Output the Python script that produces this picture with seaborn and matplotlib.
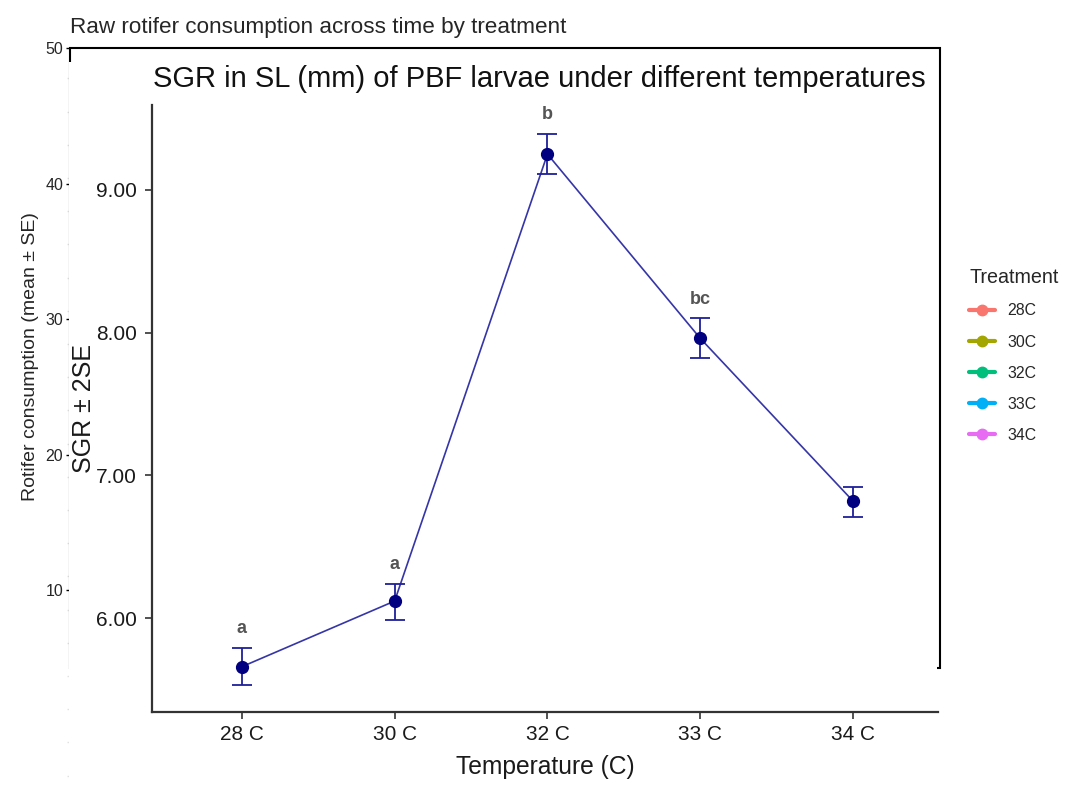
import numpy as np
import pandas as pd
import matplotlib
matplotlib.use("Agg")
import matplotlib.pyplot as plt
import seaborn as sns
from matplotlib.lines import Line2D
from matplotlib.patches import Rectangle
from matplotlib.ticker import FixedLocator

# data
temps = ["28 C", "30 C", "32 C", "33 C", "34 C"]
sgr_mean = [5.66, 6.12, 9.25, 7.96, 6.82]
sgr_low = [5.53, 5.99, 9.11, 7.82, 6.71]
sgr_high = [5.79, 6.24, 9.39, 8.10, 6.92]
letters = ["a", "a", "b", "bc", ""]

treatments = ["28C", "30C", "32C", "33C", "34C"]
treat_colors = ["#F8766D", "#A3A500", "#00BF7D", "#00B0F6", "#E76BF3"]
outer_yticks = [10, 20, 30, 40, 50]

df = pd.DataFrame({"temp": temps, "sgr": sgr_mean, "lo": sgr_low, "hi": sgr_high})
df["pos"] = np.arange(len(df))

sns.set_theme(style="white")
plt.rcParams["font.family"] = ["Liberation Sans", "DejaVu Sans"]

W, H = 1076, 785
fig = plt.figure(figsize=(W / 100, H / 100), dpi=100)

def fx(px):
    return px / W

def fy(py):
    return 1 - py / H

# outer (background) plot
ax0 = fig.add_axes([fx(70), 0, fx(940) - fx(70), fy(48)])
ax0.set_xlim(0, 1)
ax0.set_ylim(-4.39, 50)
for s in ax0.spines.values():
    s.set_visible(False)
ax0.set_yticks(outer_yticks)
ax0.set_yticklabels([str(v) for v in outer_yticks], fontsize=11.5)
ax0.yaxis.set_minor_locator(FixedLocator(np.arange(-3.7, 48, 2.45)))
ax0.tick_params(axis="y", which="major", left=True, length=3, width=1, color="black", pad=2)
ax0.tick_params(axis="y", which="minor", left=True, length=2, width=1, color="#e2e2e2")
ax0.set_xticks([])
ax0.xaxis.set_minor_locator(FixedLocator([0.026, 0.143, 0.286, 0.491, 0.628, 0.745, 0.862, 0.979]))
ax0.tick_params(axis="x", which="minor", bottom=True, length=5, width=1, color="#e2e2e2")
ax0.set_ylabel("Rotifer consumption (mean ± SE)", fontsize=14)
ax0.yaxis.set_label_coords(-0.036, 0.581)
ax0.set_title("Raw rotifer consumption across time by treatment", loc="left",
              fontsize=16.2, pad=11)
ax0.patch.set_alpha(0)

# legend of the outer plot
handles = [Line2D([0], [0], color=c, lw=3, marker="o", markersize=7.5) for c in treat_colors]
fig.legend(handles, treatments, title="Treatment", loc="upper left",
           bbox_to_anchor=(fx(955), fy(254)), frameon=False, fontsize=11.4,
           title_fontsize=14.2, handlelength=1.6, labelspacing=1.02, alignment="left")

# border of pasted panel + white cover
fig.patches.append(Rectangle((fx(70), fy(668)), fx(940) - fx(70), fy(48) - fy(668),
                             transform=fig.transFigure, fill=False, ec="black", lw=1.5, zorder=1))
fig.patches.append(Rectangle((fx(69.1), 0), fx(937) - fx(69.1), fy(62),
                             transform=fig.transFigure, fc="white", ec="none", zorder=1.5))

# inner SGR plot
ax = fig.add_axes([fx(152), fy(712), fx(938) - fx(152), fy(105) - fy(712)])
ax.set_zorder(3)
ax.patch.set_alpha(0)
sns.lineplot(data=df, x="pos", y="sgr", ax=ax, color="#3535a8", lw=1.2, zorder=2)
ax.errorbar(df["pos"], df["sgr"], yerr=[df["sgr"] - df["lo"], df["hi"] - df["sgr"]],
            fmt="o", color="#000080", ecolor="#1f1f99", elinewidth=1.3, capsize=7.5,
            capthick=1.3, markersize=8.5, zorder=3)
for i, lab in enumerate(letters):
    if lab:
        ax.text(i, sgr_high[i] + 0.075, lab, ha="center", va="bottom",
                fontsize=13, fontweight="bold", color="#555555")
ax.set_xlim(-0.588, 4.556)
ax.set_ylim(5.343, 9.594)
ax.set_xticks(df["pos"])
ax.set_xticklabels(temps)
ax.set_yticks([6, 7, 8, 9])
ax.set_yticklabels(["6.00", "7.00", "8.00", "9.00"])
ax.tick_params(axis="both", labelsize=15, colors="#333333", labelcolor="#1a1a1a",
               length=5, width=1.2, bottom=True, left=True)
ax.tick_params(axis="y", pad=6)
ax.tick_params(axis="x", pad=4)
for side in ["top", "right"]:
    ax.spines[side].set_visible(False)
for side in ["left", "bottom"]:
    ax.spines[side].set_color("#333333")
    ax.spines[side].set_linewidth(1.6)
ax.set_xlabel("Temperature (C)", fontsize=17.7, color="#1a1a1a", labelpad=8)
ax.set_ylabel("SGR ± 2SE", fontsize=18, color="#1a1a1a", labelpad=0)
fig.text(fx(539), fy(79), "SGR in SL (mm) of PBF larvae under different temperatures",
         ha="center", va="center", fontsize=21, color="#111111", zorder=4)

fig.savefig("out.png", dpi=100)
